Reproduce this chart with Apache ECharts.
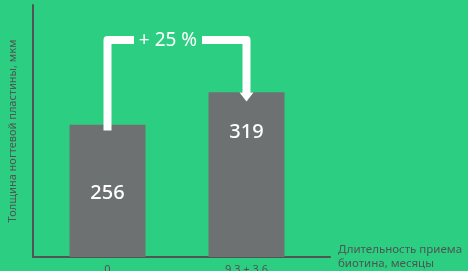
<!DOCTYPE html>
<html>
<head>
<meta charset="utf-8">
<script src="https://cdn.jsdelivr.net/npm/echarts@6/dist/echarts.min.js"></script>
<style>
  html, body { margin: 0; padding: 0; background: #2ccf82; }
  #chart { width: 468px; height: 271px; }
</style>
</head>
<body>
<div id="chart"></div>
<script>
  // data
  const categories = ['0', '9,3 ± 3,6']
  const thickness = [256, 319]
  const gainLabel = '+ 25 %'
  const arrowLevel = 420 // height of the connector, in axis units
  const yMax = 488

  const font = 'Noto Sans'
  const grey = '#4f5553'

  const chart = echarts.init(document.getElementById('chart'))

  chart.setOption({
    backgroundColor: '#2ccf82',
    animation: false,
    grid: [
      // bars
      {left: 38, right: 152, top: 5, bottom: 14, outerBoundsMode: 'none'},
      // axis frame
      {left: 33, right: 138, top: 5, bottom: 14, outerBoundsMode: 'none'}
    ],
    xAxis: [{
      gridIndex: 0,
      type: 'category',
      data: categories,
      axisLine: {show: false},
      axisTick: {show: false},
      axisLabel: {color: grey, fontFamily: font, fontSize: 11, margin: 7}
    }, {
      gridIndex: 1,
      type: 'category',
      data: categories,
      axisLine: {lineStyle: {color: grey, width: 2}},
      axisTick: {show: false},
      axisLabel: {show: false},
      name: 'Длительность приема\nбиотина, месяцы',
      nameLocation: 'end',
      nameGap: 8,
      nameTextStyle: {color: grey, fontFamily: font, fontSize: 11.5, lineHeight: 14, align: 'left'}
    }],
    yAxis: [{
      gridIndex: 0,
      type: 'value',
      min: 0,
      max: yMax,
      show: false
    }, {
      gridIndex: 1,
      type: 'value',
      min: 0,
      max: yMax,
      splitLine: {show: false},
      axisLabel: {show: false},
      axisTick: {show: false},
      axisLine: {show: true, lineStyle: {color: grey, width: 2}},
      name: 'Толщина ногтевой пластины, мкм',
      nameLocation: 'middle',
      nameGap: 15,
      nameTextStyle: {color: grey, fontFamily: font, fontSize: 11}
    }],
    series: [{
      type: 'bar',
      xAxisIndex: 0,
      yAxisIndex: 0,
      barWidth: 76,
      itemStyle: {color: '#6d7171'},
      label: {
        show: true,
        position: 'inside',
        color: '#fff',
        fontFamily: font,
        fontSize: 20,
        fontWeight: 500
      },
      data: thickness.map((v, i) => ({
        value: v,
        label: {offset: [[0, 2], [0, -42]][i]}
      }))
    }]
  })

  // connector arrow between the two bars
  const p = (i, v) => chart.convertToPixel({xAxisIndex: 0, yAxisIndex: 0}, [i, v])
  const start = p(0, thickness[0] - 11)
  const topL = p(0, arrowLevel)
  const topR = p(1, arrowLevel)
  const head = p(1, thickness[1] - 18)
  const headBase = head[1] - 9
  const midX = 168
  const gap = 34
  const white = '#fff'

  chart.setOption({
    graphic: [{
      type: 'polyline',
      z: 10,
      shape: {points: [start, topL, [midX - gap, topL[1]]]},
      style: {stroke: white, lineWidth: 8, lineJoin: 'round', fill: null}
    }, {
      type: 'polyline',
      z: 10,
      shape: {points: [[midX + gap, topR[1]], topR, [topR[0], headBase + 1]]},
      style: {stroke: white, lineWidth: 8, lineJoin: 'round', fill: null}
    }, {
      type: 'polygon',
      z: 10,
      shape: {points: [[head[0] - 7, headBase], [head[0] + 7, headBase], head]},
      style: {fill: white}
    }, {
      type: 'text',
      z: 10,
      x: midX,
      y: topL[1],
      style: {
        text: gainLabel,
        fill: white,
        font: '19px "Noto Sans"',
        align: 'center',
        verticalAlign: 'middle'
      }
    }]
  })
</script>
</body>
</html>
